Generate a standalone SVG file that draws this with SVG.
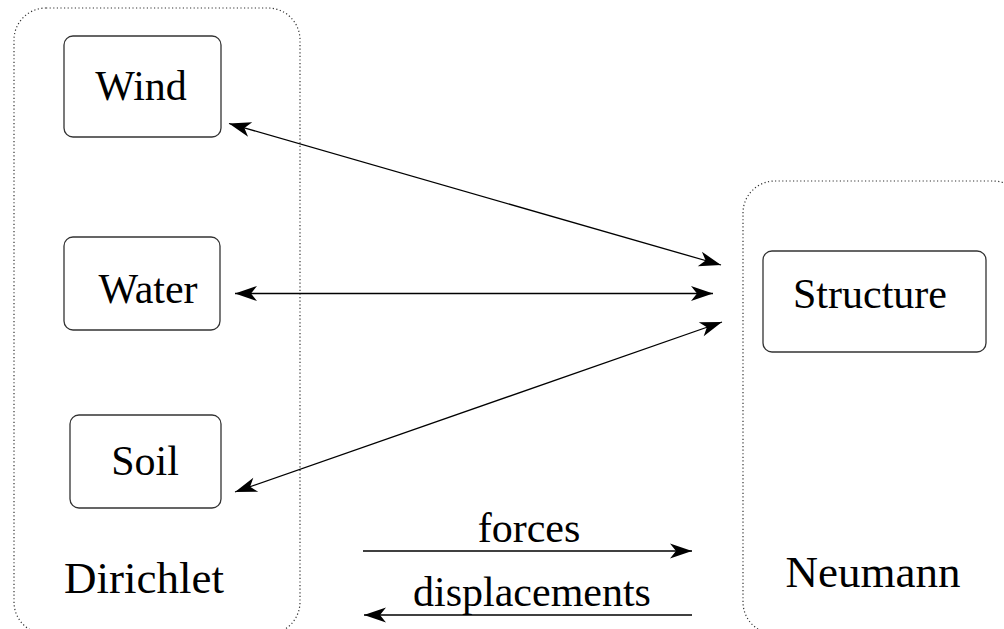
<svg xmlns="http://www.w3.org/2000/svg" width="1004" height="629" viewBox="0 0 1004 629">
<style>
.region{fill:none;stroke:#333;stroke-width:1.2;stroke-dasharray:1.2 2.4}
.box{fill:#fff;stroke:#333;stroke-width:1.3}
.lbl{fill:#000;text-anchor:middle}
.conn{stroke:#000;stroke-width:1.3;fill:none}
</style>
<defs>
<marker id="ah" markerUnits="userSpaceOnUse" markerWidth="26" markerHeight="18" viewBox="-23 -9 26 18" refX="0" refY="0" orient="auto-start-reverse">
<path d="M0,0 L-22,-7.5 L-16,0 L-22,7.5 Z" fill="#000"/>
</marker>
</defs>
<g font-family="'Liberation Serif', 'Times New Roman', Tinos, 'DejaVu Serif', serif" font-size="42">
<g id="dirichlet">
<rect class="region" x="14" y="8" width="286" height="626" rx="32" ry="32"/>
<text class="lbl" font-size="45" x="144" y="593">Dirichlet</text>
</g>
<g id="neumann">
<rect class="region" x="743" y="181" width="282" height="453" rx="32" ry="32"/>
<text class="lbl" font-size="45" x="873" y="587">Neumann</text>
</g>
<g id="wind">
<rect class="box" x="64" y="36" width="157" height="101" rx="9" ry="9"/>
<text class="lbl" x="141" y="100">Wind</text>
</g>
<g id="water">
<rect class="box" x="64" y="237" width="156" height="93" rx="9" ry="9"/>
<text class="lbl" x="148" y="303">Water</text>
</g>
<g id="soil">
<rect class="box" x="70" y="415" width="151" height="93" rx="9" ry="9"/>
<text class="lbl" x="145" y="475">Soil</text>
</g>
<g id="structure">
<rect class="box" x="763" y="251" width="223" height="101" rx="9" ry="9"/>
<text class="lbl" x="870" y="308">Structure</text>
</g>
<g id="connectors">
<line class="conn" x1="229" y1="123.5" x2="721" y2="265" marker-start="url(#ah)" marker-end="url(#ah)"/>
<line class="conn" x1="235" y1="293.5" x2="713" y2="293.5" marker-start="url(#ah)" marker-end="url(#ah)"/>
<line class="conn" x1="235" y1="492" x2="722" y2="322" marker-start="url(#ah)" marker-end="url(#ah)"/>
<line class="conn" x1="363" y1="551" x2="692" y2="551" marker-end="url(#ah)"/>
<line class="conn" x1="692" y1="615" x2="364" y2="615" marker-end="url(#ah)"/>
<text class="lbl" x="529" y="542">forces</text>
<text class="lbl" x="532" y="606">displacements</text>
</g>
</g>
</svg>
